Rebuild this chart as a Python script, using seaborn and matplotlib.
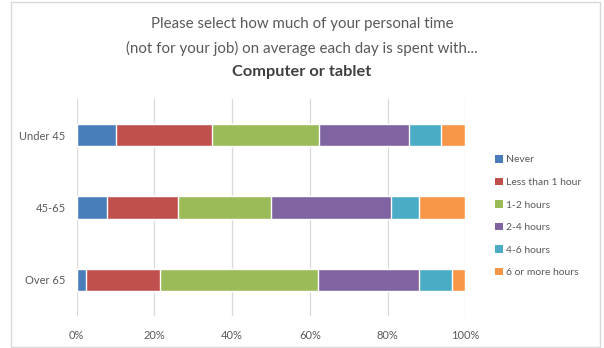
import numpy as np
import pandas as pd
import matplotlib
matplotlib.use("Agg")
import matplotlib.pyplot as plt
import seaborn as sns
from matplotlib.patches import Rectangle, Patch

groups = ["Under 45", "45-65", "Over 65"]
series = ["Never", "Less than 1 hour", "1-2 hours", "2-4 hours", "4-6 hours", "6 or more hours"]
never = [10.0, 7.9, 2.4]
less1 = [24.9, 18.1, 19.0]
h1_2 = [27.4, 23.9, 40.6]
h2_4 = [23.1, 31.0, 26.2]
h4_6 = [8.4, 7.3, 8.3]
h6p = [6.2, 11.8, 3.5]
colors = ["#4A7EBB", "#C0504D", "#9BBB59", "#8064A2", "#4BACC6", "#F79646"]
xticks = [0, 20, 40, 60, 80, 100]
xticklabels = ["0%", "20%", "40%", "60%", "80%", "100%"]

sns.set_theme(style="white")
plt.rcParams["font.family"] = ["Lato", "DejaVu Sans"]

vals = np.array([never, less1, h1_2, h2_4, h4_6, h6p])
cum = np.cumsum(vals, axis=0)
cum = cum / cum[-1] * 100

fig = plt.figure(figsize=(6.04, 3.48), dpi=100)
ax = fig.add_axes([76.7 / 604, 1 - 316 / 348, (465.3 - 76.7) / 604, (316 - 99) / 348])

for i in range(len(series) - 1, -1, -1):
    df = pd.DataFrame({"group": groups, "value": cum[i]})
    sns.barplot(data=df, x="value", y="group", color=colors[i], width=0.31,
                ax=ax, orient="h", saturation=1, zorder=3)

ax.set_xlim(0, 100)
ax.set_xticks(xticks)
ax.set_xticklabels(xticklabels, fontsize=8, color="#595959")
ax.tick_params(axis="y", labelsize=8, labelcolor="#595959", length=0, pad=8)
ax.tick_params(axis="x", length=0, pad=10)
ax.set_xlabel("")
ax.set_ylabel("")
ax.grid(axis="x", color="#D9D9D9", linewidth=0.9, zorder=0)
for s in ax.spines.values():
    s.set_visible(False)

handles = [Patch(facecolor=c, edgecolor="none") for c in colors]
fig.legend(handles, series, loc="upper left", bbox_to_anchor=(490 / 604, 1 - 150 / 348),
           frameon=False, fontsize=7.5, labelcolor="#595959", handlelength=0.7,
           handleheight=0.7, handletextpad=0.3, labelspacing=1.27, borderpad=0)

fig.text(0.5, 1 - 24 / 348, "Please select how much of your personal time",
         ha="center", va="center", fontsize=10.8, color="#595959")
fig.text(0.5, 1 - 48 / 348, "(not for your job) on average each day is spent with...",
         ha="center", va="center", fontsize=10.9, color="#595959")
fig.text(0.5, 1 - 72 / 348, "Computer or tablet",
         ha="center", va="center", fontsize=11.8, color="#404040", fontweight="bold")

fig.patches.append(Rectangle((11 / 604, 1 / 348), (600 - 11) / 604, (346 - 1) / 348,
                             transform=fig.transFigure, fill=False,
                             edgecolor="#D9D9D9", linewidth=1))

fig.savefig("out.png", dpi=100)
